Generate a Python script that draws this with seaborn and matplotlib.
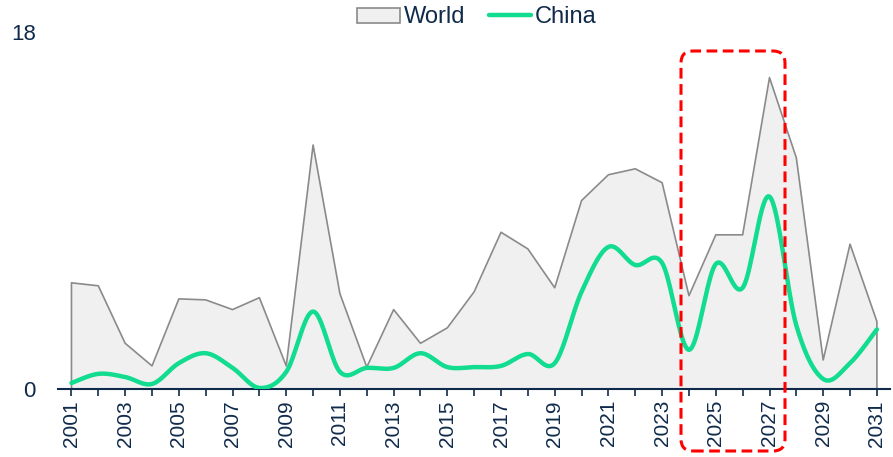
import numpy as np
import pandas as pd
import matplotlib
matplotlib.use("Agg")
import matplotlib.pyplot as plt
import matplotlib.transforms as mtransforms
import seaborn as sns
from matplotlib.patches import FancyBboxPatch, Patch
from matplotlib.lines import Line2D

years = list(range(2001, 2032))
world = [5.35, 5.2, 2.3, 1.16, 4.54, 4.49, 4.0, 4.6, 1.16, 12.3, 4.8, 1.1, 4.0, 2.3, 3.08,
         4.9, 7.9, 7.06, 5.1, 9.5, 10.8, 11.1, 10.4, 4.7, 7.77, 7.77, 15.7, 11.65, 1.46, 7.3, 3.4]
china = [0.3, 0.76, 0.6, 0.25, 1.3, 1.8, 1.06, 0.05, 0.86, 3.9, 0.86, 1.06, 1.06, 1.8, 1.1,
         1.1, 1.16, 1.76, 1.3, 4.9, 7.16, 6.25, 6.35, 1.97, 6.3, 5.1, 9.7, 3.2, 0.5, 1.3, 3.0]
ytick_labels = ["0", "18"]

NAVY = "#0f2a4a"
GREEN = "#12dc8f"


def smooth(x, y, n=20):
    # Excel-style smoothed line (Catmull-Rom Bezier) for drawing only
    x = np.asarray(x, float)
    y = np.asarray(y, float)
    P = np.column_stack([x, y])
    out = []
    for i in range(len(P) - 1):
        p0 = P[i - 1] if i > 0 else P[i]
        p1 = P[i]
        p2 = P[i + 1]
        p3 = P[i + 2] if i + 2 < len(P) else P[i + 1]
        c1 = p1 + (p2 - p0) / 6.0
        c2 = p2 - (p3 - p1) / 6.0
        t = np.linspace(0, 1, n, endpoint=False)[:, None]
        seg = ((1 - t) ** 3) * p1 + 3 * ((1 - t) ** 2) * t * c1 + 3 * (1 - t) * t ** 2 * c2 + t ** 3 * p2
        out.append(seg)
    out.append(P[-1:])
    arr = np.vstack(out)
    return arr[:, 0], arr[:, 1]


sns.set_theme(style="white")
plt.rcParams["font.family"] = ["Liberation Sans", "DejaVu Sans"]

fig = plt.figure(figsize=(8.93, 4.57), dpi=100)
ax = fig.add_axes([0.065, 0.149, 0.932, 0.781])

df_w = pd.DataFrame({"year": years, "value": world})
ax.fill_between(df_w["year"], 0, df_w["value"], color="#f0f0f0", linewidth=0, zorder=1)
wx = [years[0]] + years + [years[-1]]
wy = [0] + world + [0]
ax.plot(wx, wy, color="#8a8a8a", lw=1.2, zorder=2)

sx, sy = smooth(years, china)
df_c = pd.DataFrame({"x": sx, "y": sy})
sns.lineplot(data=df_c, x="x", y="y", ax=ax, color=GREEN, lw=3.2, sort=False,
             estimator=None, zorder=3)

ax.set_xlim(2000.5, 2031.5)
ax.set_ylim(0, 18)
ax.set_xlabel("")
ax.set_ylabel("")
ax.set_xticks(years)
ax.set_xticklabels([str(y) if (y - 2001) % 2 == 0 else "" for y in years],
                   rotation=90, fontsize=15, color=NAVY)
ax.set_yticks([0, 18])
ax.set_yticklabels(ytick_labels, fontsize=16, color=NAVY)
ax.tick_params(axis="x", direction="out", length=5, width=1.2, color=NAVY, pad=3, bottom=True)
ax.tick_params(axis="y", length=0, pad=16)
for s in ["top", "right", "left"]:
    ax.spines[s].set_visible(False)
ax.spines["bottom"].set_color(NAVY)
ax.spines["bottom"].set_linewidth(1.5)
ax.grid(False)

handles = [Patch(facecolor="#f0f0f0", edgecolor="#8a8a8a", lw=1.2, label="World"),
           Line2D([0], [0], color=GREEN, lw=3.2, label="China")]
fig.legend(handles=handles, loc="center", bbox_to_anchor=(0.534, 0.962), ncol=2,
           frameon=False, fontsize=17, handlelength=1.8, handleheight=0.6,
           columnspacing=1.0, handletextpad=0.15, labelcolor=NAVY)

W, H = 893, 457
x0, x1, y0, y1 = 681, 785, 51, 451
box = FancyBboxPatch((x0, H - y1), x1 - x0, y1 - y0,
                     boxstyle="round,pad=0,rounding_size=12",
                     transform=mtransforms.IdentityTransform(),
                     fill=False, edgecolor="#ff0000", lw=2.2, linestyle=(0, (3.5, 1.8)),
                     clip_on=False, zorder=10)
fig.patches.append(box)

fig.savefig("out.png", dpi=100)
